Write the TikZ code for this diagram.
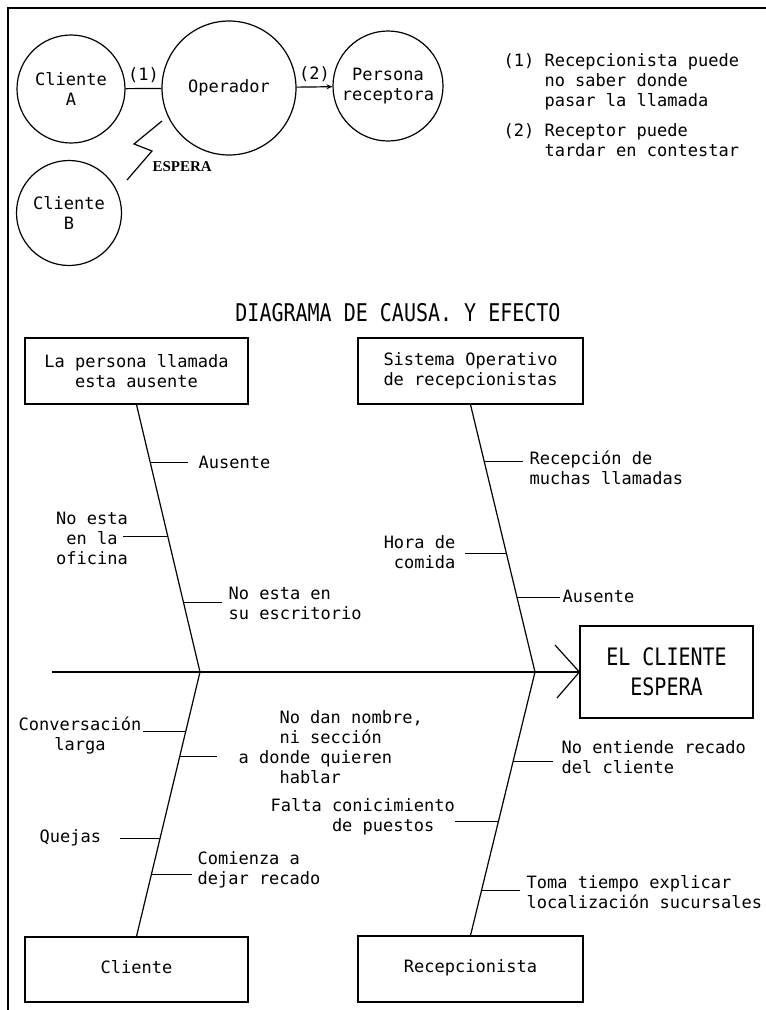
\documentclass[tikz,border=0pt]{standalone}
\usepackage{fontspec}
\newfontfamily\tfont{DejaVu Sans Mono}
\newfontfamily\efont{Liberation Serif}
\usetikzlibrary{arrows.meta}
\begin{document}
\begin{tikzpicture}[x=1pt,y=-1pt,line width=1.2pt,
  txt/.style={font=\tfont\fontsize{17}{20}\selectfont, inner sep=0pt, align=left},
  ctxt/.style={txt, align=center},
  rtxt/.style={txt, align=right},
  circ/.style={draw, circle, minimum size=#1, inner sep=0pt, align=center, font=\tfont\fontsize{17}{20}\selectfont},
  box/.style={draw, rectangle, inner sep=0pt, align=center, font=\tfont\fontsize{17}{20}\selectfont},
  big/.style={font=\tfont\fontsize{20}{30}\selectfont, align=center},
  tick/.style={line width=1.2pt}]
\useasboundingbox (0,0) rectangle (766,1010);
% frame
\draw[line width=1.4pt] (766,8) -- (8,8) -- (8,1010);

% ---- top: flow of the call ----
\node[circ=108] (ca) at (71,89) {Cliente\\A};
\node[circ=134] (op) at (229,88) {Operador};
\node[circ=110] (pr) at (388,86) {Persona\\receptora};
\node[circ=105] (cb) at (69,213) {Cliente\\B};
\draw (ca) -- (op) node[txt, midway, above=5pt] (n1) {(1)};
\draw[-{Stealth[length=6pt,width=5pt]}] (op) -- (pr) node[txt, midway, above=5pt] (n2) {(2)};
\coordinate (z0) at (162,121);
\coordinate (z3) at (127,180);
\draw (z0) -- (134,144) -- (152,151) -- (z3);
\node[font=\efont\bfseries\fontsize{15}{18}\selectfont, inner sep=0pt, anchor=west] (esp) at (152,167) {ESPERA};

\node[txt, anchor=west] (nota1) at (503,82) {(1) Recepcionista puede\\\phantom{(1) }no saber donde\\\phantom{(1) }pasar la llamada};
\node[txt, anchor=west] (nota2) at (503,141) {(2) Receptor puede\\\phantom{(2) }tardar en contestar};

% ---- title ----
\node[font=\tfont\fontsize{20}{24}\selectfont, inner sep=0pt] (title) at (398,313) {\scalebox{1}[1.22]{DIAGRAMA DE CAUSA. Y EFECTO}};

% ---- boxes ----
\node[box, minimum width=223, minimum height=66] (b1) at (136.5,371) {La persona llamada\\esta ausente};
\node[box, minimum width=225, minimum height=66] (b2) at (470.5,371) {Sistema Operativo\\de recepcionistas};
\node[box, minimum width=223, minimum height=65] (b3) at (136.5,969.5) {\raisebox{5pt}{Cliente}};
\node[box, minimum width=225, minimum height=66] (b4) at (470.5,969) {\raisebox{5pt}{Recepcionista}};
\node[box, big, minimum width=173, minimum height=92] (ef) at (666.5,672) {\scalebox{1}[1.2]{EL CLIENTE}\\\scalebox{1}[1.2]{ESPERA}};

% ---- spine ----
\coordinate (tail) at (52,672);
\coordinate (j1) at (200,672);
\coordinate (j2) at (535,672);
\draw (tail) -- (ef.west);
\draw (555,645) -- (ef.west) -- (557,698);

% ---- bones ----
\draw (b1.south) -- (j1) -- (b3.north);
\draw (b2.south) -- (j2) -- (b4.north);
\path (b1.south) -- (j1) coordinate[pos=0.216] (a1) coordinate[pos=0.493] (a2) coordinate[pos=0.739] (a3);
\path (b2.south) -- (j2) coordinate[pos=0.213] (c1) coordinate[pos=0.556] (c2) coordinate[pos=0.720] (c3);
\path (j1) -- (b3.north) coordinate[pos=0.226] (d1) coordinate[pos=0.321] (d2) coordinate[pos=0.630] (d3) coordinate[pos=0.766] (d4);
\path (j2) -- (b4.north) coordinate[pos=0.341] (e1) coordinate[pos=0.568] (e2) coordinate[pos=0.830] (e3);

% top-left causes
\draw[tick] (a1) -- ++(38,0);
\node[txt, anchor=west] (la1) at (198,462) {Ausente};
\draw[tick] (a2) -- ++(-45,0);
\node[ctxt] (la2) at (92,538) {No esta\\en la\\oficina};
\draw[tick] (a3) -- ++(39,0);
\node[txt, anchor=west] (la3) at (228,603) {No esta en\\su escritorio};

% top-right causes
\draw[tick] (c1) -- ++(39,0);
\node[txt, anchor=west] (lc1) at (529,468) {Recepción de\\muchas llamadas};
\draw[tick] (c2) -- ++(-41,0);
\node[rtxt, anchor=east] (lc2) at (456,552) {Hora de\\comida};
\draw[tick] (c3) -- ++(43,0);
\node[txt, anchor=west] (lc3) at (562,596) {Ausente};

% bottom-left causes
\draw[tick] (d1) -- ++(-43,0);
\node[ctxt] (ld1) at (80,736) {Conversación\\larga};
\draw[tick] (d2) -- ++(37,0);
\node[txt, anchor=west] (ld2) at (238,747) {\phantom{a do}No dan nombre,\\\phantom{a do}ni sección\\a donde quieren\\\phantom{a do}hablar};
\draw[tick] (d3) -- ++(-40,0);
\node[txt, anchor=west] (ld3) at (39,838) {Quejas};
\draw[tick] (d4) -- ++(41,0);
\node[txt, anchor=west] (ld4) at (197,870) {Comienza a\\dejar recado};

% bottom-right causes
\draw[tick] (e1) -- ++(40,0);
\node[txt, anchor=west] (le1) at (561,757) {No entiende recado\\del cliente};
\draw[tick] (e2) -- ++(-43,0);
\node[txt, anchor=west] (le2) at (270,817) {Falta conicimiento\\\phantom{Falta }de puestos};
\draw[tick] (e3) -- ++(39,0);
\node[txt, anchor=west] (le3) at (526,892) {Toma tiempo explicar\\localización sucursales};
\end{tikzpicture}
\end{document}
